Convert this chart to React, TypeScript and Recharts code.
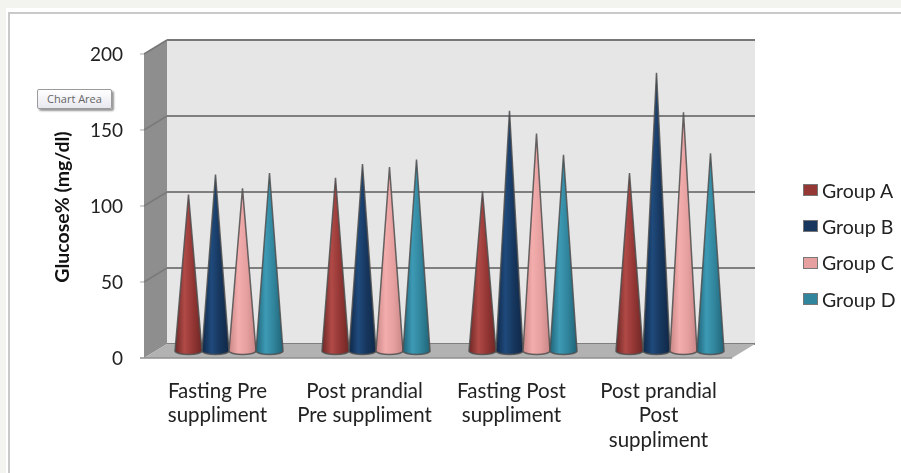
import { BarChart, Bar, XAxis, YAxis, CartesianGrid, Legend } from "recharts";

const categories = [
  "Fasting Pre\nsuppliment",
  "Post prandial\nPre suppliment",
  "Fasting Post\nsuppliment",
  "Post prandial\nPost\nsuppliment",
];
const groupA = [103, 114, 105, 117];
const groupB = [116, 123, 158, 183];
const groupC = [107, 121, 143, 157];
const groupD = [117, 126, 129, 130];
const yTicks = [0, 50, 100, 150, 200];

const groupNames = ["Group A", "Group B", "Group C", "Group D"];
const groupColors = ["#953735", "#17375e", "#e6a0a0", "#31859c"];
const groupLights = ["#b04a47", "#1f4a7c", "#f4adad", "#3d9ab5"];
const groupDarks = ["#6e2725", "#0f2747", "#c98686", "#1f6478"];

const data = categories.map((name, i) => ({
  name,
  a: groupA[i],
  b: groupB[i],
  c: groupC[i],
  d: groupD[i],
}));
const seriesKeys = ["a", "b", "c", "d"];

const FONT = "Lato, 'Open Sans', sans-serif";
// chart box of the 3D look
const LEFT = 167;
const TOP = 40;
const RIGHT = 755;
const BOTTOM = 344;
const DX = 23;
const DY = 14;
const AXIS_W = 100;
const AXIS_H = 100;

function Walls() {
  return (
    <g>
      <polygon
        points={`${LEFT - DX},${TOP + DY} ${LEFT},${TOP} ${LEFT},${BOTTOM} ${LEFT - DX},${BOTTOM + DY}`}
        fill="#8e8e8e"
      />
      <polygon
        points={`${LEFT - DX},${BOTTOM + DY} ${LEFT},${BOTTOM} ${RIGHT},${BOTTOM} ${RIGHT - DX},${BOTTOM + DY}`}
        fill="#b2b2b2"
      />
      <line x1={LEFT - DX - 4} y1={BOTTOM + DY} x2={RIGHT - DX} y2={BOTTOM + DY} stroke="#8f8f8f" strokeWidth={1.5} />
      <line x1={LEFT - DX} y1={TOP + DY} x2={LEFT} y2={TOP} stroke="#777" strokeWidth={1.5} />
      <line x1={LEFT} y1={TOP} x2={RIGHT} y2={TOP} stroke="#777" strokeWidth={1.8} />
    </g>
  );
}

function YTick({ y, payload }: any) {
  const fx = LEFT - DX;
  const fy = y + DY;
  return (
    <g>
      <line x1={fx - 4} y1={fy} x2={fx} y2={fy} stroke="#aaa" />
      {payload.value > 0 && payload.value < 200 ? (
        <line x1={fx} y1={fy} x2={LEFT} y2={y} stroke="#7a7a7a" strokeWidth={1.5} />
      ) : null}
      <text x={fx - 21} y={fy + 7} textAnchor="end" fontFamily={FONT} fontSize={19} fill="#222">
        {payload.value}
      </text>
    </g>
  );
}

function XTick({ x, payload }: any) {
  const lines = String(payload.value).split("\n");
  return (
    <text textAnchor="middle" fontFamily={FONT} fontSize={20.5} fill="#222">
      {lines.map((line, i) => (
        <tspan key={i} x={x - DX} y={397.5 + i * 24.5}>
          {line}
        </tspan>
      ))}
    </text>
  );
}

function Cone(props: any) {
  const { x, y, width, height, index } = props;
  const g = seriesKeys.indexOf(props.dataKey);
  const left = x - DX / 2 - 0.5;
  const right = left + width;
  const top = y + DY / 2;
  const base = top + height;
  const d = `M${left},${base} L${left + width / 2},${top} L${right},${base} A${width / 2},3.5 0 0 1 ${left},${base} Z`;
  return (
    <path
      key={index}
      d={d}
      fill={`url(#cone-${g})`}
      stroke="#4f4f4f"
      strokeOpacity={0.85}
      strokeWidth={1.5}
    />
  );
}

function GroupLegend() {
  return (
    <div style={{ fontFamily: FONT, fontSize: 19.5, color: "#222", whiteSpace: "nowrap" }}>
      {groupNames.map((name, i) => (
        <div key={name} style={{ display: "flex", alignItems: "center", height: 36.3 }}>
          <span
            style={{
              width: 13,
              height: 10,
              marginRight: 4,
              background: groupColors[i],
              border: "1px solid #777",
            }}
          />
          {name}
        </div>
      ))}
    </div>
  );
}

export default function App() {
  return (
    <div
      style={{
        position: "absolute",
        left: 0,
        top: 0,
        width: 901,
        height: 473,
        overflow: "hidden",
        background: "#f3f4ef",
      }}
    >
      <div
        style={{
          position: "absolute",
          left: 6,
          top: 8,
          width: 895,
          height: 465,
          background: "#fff",
        }}
      />
      <div
        style={{
          position: "absolute",
          left: 8,
          top: 12,
          width: 893,
          height: 461,
          borderLeft: "2px solid #c9c9c9",
          borderTop: "2px solid #c9c9c9",
          boxSizing: "border-box",
        }}
      />
      <div style={{ position: "absolute", left: 0, top: 0, filter: "blur(0.4px)" }}>
        <BarChart
          width={901}
          height={473}
          data={data}
          margin={{ left: LEFT - AXIS_W, top: TOP, right: 901 - RIGHT, bottom: 473 - BOTTOM - AXIS_H }}
          barGap={0}
          barCategoryGap={19.5}
        >
          <defs>
            {groupColors.map((c, i) => (
              <linearGradient key={c} id={`cone-${i}`} x1="0" y1="0" x2="1" y2="0">
                <stop offset="0%" stopColor={groupDarks[i]} />
                <stop offset="35%" stopColor={groupLights[i]} />
                <stop offset="65%" stopColor={groupColors[i]} />
                <stop offset="100%" stopColor={groupDarks[i]} />
              </linearGradient>
            ))}
          </defs>
          <Walls />
          <CartesianGrid vertical={false} fill="#e6e6e6" stroke="#7f7f7f" strokeWidth={1.8} />
          <XAxis
            dataKey="name"
            axisLine={false}
            tickLine={false}
            interval={0}
            tick={<XTick />}
            height={AXIS_H}
          />
          <YAxis
            domain={[0, 200]}
            ticks={yTicks}
            axisLine={false}
            tickLine={false}
            tick={<YTick />}
            width={AXIS_W}
            label={{
              value: "Glucose% (mg/dl)",
              content: () => (
                <text
                  transform="translate(69,207) rotate(-90)"
                  textAnchor="middle"
                  fontFamily={FONT}
                  fontWeight={700}
                  fontSize={19.5}
                  fill="#111"
                >
                  Glucose% (mg/dl)
                </text>
              ),
            }}
          />
          {seriesKeys.map((key, i) => (
            <Bar
              key={key}
              dataKey={key}
              name={groupNames[i]}
              fill={groupColors[i]}
              barSize={27}
              isAnimationActive={false}
              shape={(p: any) => <Cone {...p} dataKey={key} />}
            />
          ))}
          <Legend
            layout="vertical"
            align="center"
            verticalAlign="middle"
            content={<GroupLegend />}
            wrapperStyle={{ position: "absolute", left: 803, top: 172, width: 98, height: 150 }}
          />
        </BarChart>
      </div>
      <div
        style={{
          position: "absolute",
          left: 37,
          top: 89,
          width: 75,
          height: 20,
          boxSizing: "border-box",
          background: "linear-gradient(#fff, #e8e8f0)",
          border: "1px solid #9a9a9a",
          borderRadius: 2,
          boxShadow: "2px 2px 2px #999",
          fontFamily: "'Open Sans', sans-serif",
          fontSize: 11,
          lineHeight: "18px",
          textAlign: "center",
          color: "#666",
        }}
      >
        Chart Area
      </div>
    </div>
  );
}
